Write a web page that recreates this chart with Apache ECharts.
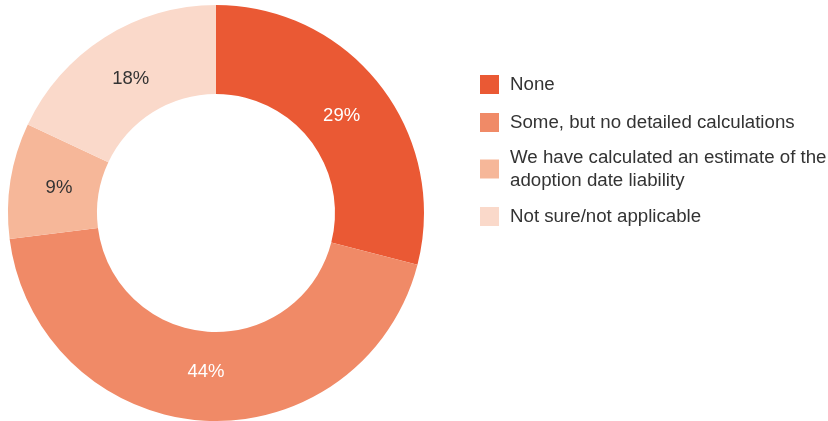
<!DOCTYPE html>
<html>
<head>
<meta charset="utf-8">
<script src="https://cdn.jsdelivr.net/npm/echarts@6/dist/echarts.min.js"></script>
<style>
  html, body { margin: 0; padding: 0; background: #ffffff; }
  #chart { width: 828px; height: 421px; }
</style>
</head>
<body>
<div id="chart"></div>
<script>
// Survey responses: share of respondents (%)
const categories = [
  'None',
  'Some, but no detailed calculations',
  'We have calculated an estimate of the\nadoption date liability',
  'Not sure/not applicable'
];
const shares = [29, 44, 9, 18];
const sliceColors = ['#EA5934', '#F08A67', '#F6B799', '#FAD9CA'];
const labelColors = ['#ffffff', '#ffffff', '#333333', '#333333'];

const FONT = '"Liberation Sans", Arial, Helvetica, sans-serif';

const ringData = categories.map((name, i) => ({
  name: name,
  value: shares[i],
  itemStyle: { color: sliceColors[i] }
}));

// same values on a transparent ring, used only to place the percentage labels
const labelData = categories.map((name, i) => ({
  name: name,
  value: shares[i],
  label: { color: labelColors[i] }
}));

// one legend block per category so each swatch sits beside its first text line
const legendTops = [73, 111, 148, 205];
const legends = categories.map((name, i) => ({
  data: [name],
  orient: 'vertical',
  left: 480,
  top: legendTops[i],
  padding: 0,
  itemWidth: 19,
  itemHeight: 19,
  icon: 'rect',
  selectedMode: false,
  textStyle: {
    fontFamily: FONT,
    fontSize: 18.7,
    lineHeight: 23,
    color: '#333333',
    padding: name.indexOf('\n') >= 0 ? [0, 0, -23, 6] : [0, 0, 0, 6]
  }
}));

const chart = echarts.init(document.getElementById('chart'), null, { renderer: 'canvas' });
chart.setOption({
  animation: false,
  backgroundColor: '#ffffff',
  legend: legends,
  series: [{
    name: 'ring',
    type: 'pie',
    center: [216, 213],
    radius: [119, 208],
    startAngle: 90,
    clockwise: true,
    itemStyle: { borderWidth: 0 },
    label: { show: false },
    labelLine: { show: false },
    emphasis: { disabled: true },
    data: ringData
  }, {
    name: 'labels',
    type: 'pie',
    center: [216, 213],
    radius: [108, 204],
    startAngle: 90,
    clockwise: true,
    silent: true,
    legendHoverLink: false,
    itemStyle: { color: 'rgba(0,0,0,0)', borderWidth: 0 },
    label: {
      show: true,
      position: 'inside',
      formatter: '{c}%',
      fontFamily: FONT,
      fontSize: 18.5
    },
    labelLine: { show: false },
    emphasis: { disabled: true },
    data: labelData
  }]
});
</script>
</body>
</html>
